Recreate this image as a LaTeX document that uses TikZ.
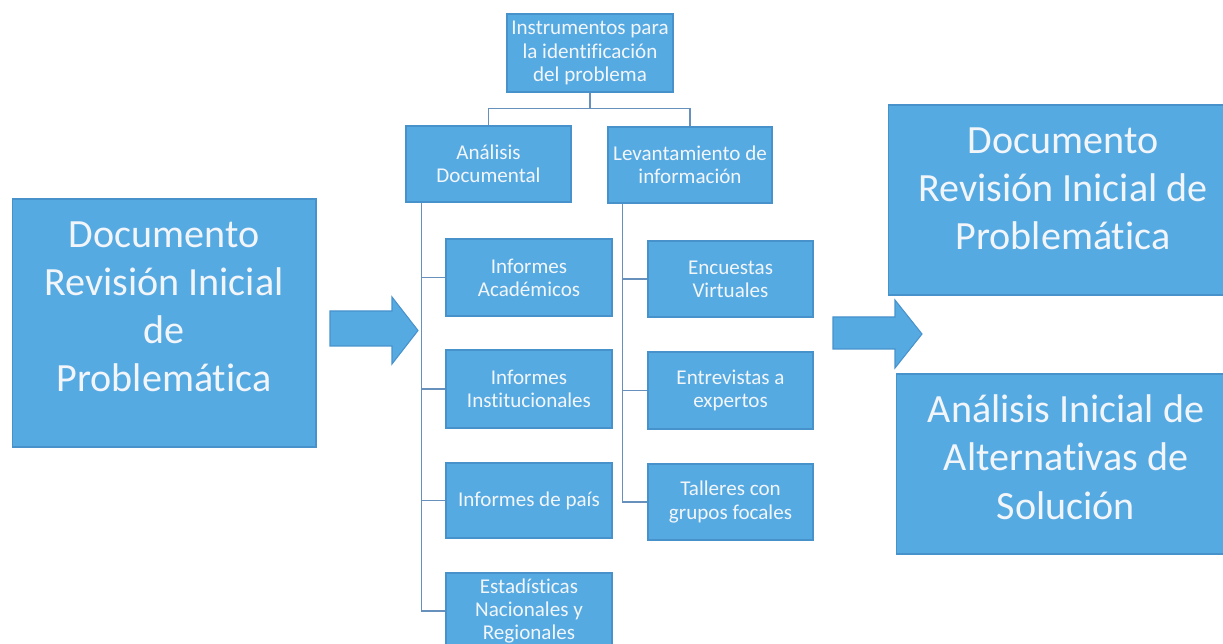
\documentclass[tikz,border=0pt]{standalone}
\usepackage{fontspec}
\setmainfont{Carlito}[Ligatures=NoCommon]
\usetikzlibrary{calc}
\definecolor{boxfill}{RGB}{86,170,226}
\definecolor{boxline}{RGB}{72,146,204}
\definecolor{connline}{RGB}{104,144,188}
\definecolor{txt}{RGB}{242,246,250}
\newcommand{\liftlines}[2]{\raisebox{#1}[\height][\depth]{\begin{tabular}{@{}c@{}}#2\end{tabular}}}
\tikzset{
  smallbox/.style={draw=boxline, line width=0.6pt, fill=boxfill, text=txt, align=center,
    inner sep=0pt, font=\fontsize{12}{13.2}\selectfont},
  bigbox/.style={draw=boxline, line width=0.6pt, fill=boxfill, text=txt, align=center,
    inner sep=0pt, font=\fontsize{22.8}{27.4}\selectfont},
  conn/.style={draw=connline, line width=0.9pt},
  bigarrow/.style={draw=boxline, line width=0.6pt, fill=boxfill, line join=miter}
}
\begin{document}
\begin{tikzpicture}[x=0.02cm, y=-0.02cm]
\useasboundingbox (0,0) rectangle (1223,644);
\clip (0,0) rectangle (1223,644);
\fill[white] (0,0) rectangle (1223,644);
% top
\node[smallbox, minimum width=3.32cm, minimum height=1.56cm] (top) at (590,53) {Instrumentos para\\la identificación\\del problema};
\node[smallbox, minimum width=3.30cm, minimum height=1.52cm] (ad) at (488.5,164) {Análisis\\Documental};
\node[smallbox, minimum width=3.28cm, minimum height=1.52cm] (lev) at (690,165) {Levantamiento de\\información};
% left column
\node[smallbox, minimum width=3.32cm, minimum height=1.54cm] (ia) at (529,277.5) {Informes\\Académicos};
\node[smallbox, minimum width=3.32cm, minimum height=1.56cm] (ii) at (529,389) {Informes\\Institucionales};
\node[smallbox, minimum width=3.32cm, minimum height=1.50cm] (ip) at (529,500.5) {Informes de país};
\node[smallbox, minimum width=3.32cm, minimum height=1.52cm] (est) at (529,611) {Estadísticas\\Nacionales y\\Regionales};
% right column
\node[smallbox, minimum width=3.30cm, minimum height=1.52cm] (ev) at (730.5,279) {Encuestas\\Virtuales};
\node[smallbox, minimum width=3.30cm, minimum height=1.54cm] (ea) at (730.5,390.5) {Entrevistas a\\expertos};
\node[smallbox, minimum width=3.30cm, minimum height=1.52cm] (tg) at (730.5,502) {Talleres con\\grupos focales};
% big boxes
\node[bigbox, minimum width=6.08cm, minimum height=4.96cm] (left) at (164,323) {\liftlines{7.4pt}{Documento\\Revisión Inicial\\de\\Problemática}};
\node[bigbox, minimum width=7.00cm, minimum height=3.80cm] (rt) at (1063,200) {\liftlines{4.5pt}{Documento\\Revisión Inicial de\\Problemática}};
\node[bigbox, minimum width=6.80cm, minimum height=3.60cm] (rb) at (1066,464) {\liftlines{1.5pt}{Análisis Inicial de\\Alternativas de\\Solución}};
% connectors
\draw[conn] (top.south) -- ++(0,16) -| (ad.north);
\draw[conn] (top.south) -- ++(0,16) -| (lev.north);
\coordinate (adl) at ($(ad.south west)+(16,0)$);
\coordinate (levl) at ($(lev.south west)+(15,0)$);
\foreach \n in {ia,ii,ip,est} { \draw[conn] (adl) |- (\n.west); }
\foreach \n in {ev,ea,tg} { \draw[conn] (levl) |- (\n.west); }
% block arrows
\draw[bigarrow] (330,311) -- (392,311) -- (392,297) -- (418,330.5) -- (392,364) -- (392,346) -- (330,346) -- cycle;
\draw[bigarrow] (833,317) -- (895,317) -- (895,300) -- (922,334) -- (895,368) -- (895,349) -- (833,349) -- cycle;
\end{tikzpicture}
\end{document}
